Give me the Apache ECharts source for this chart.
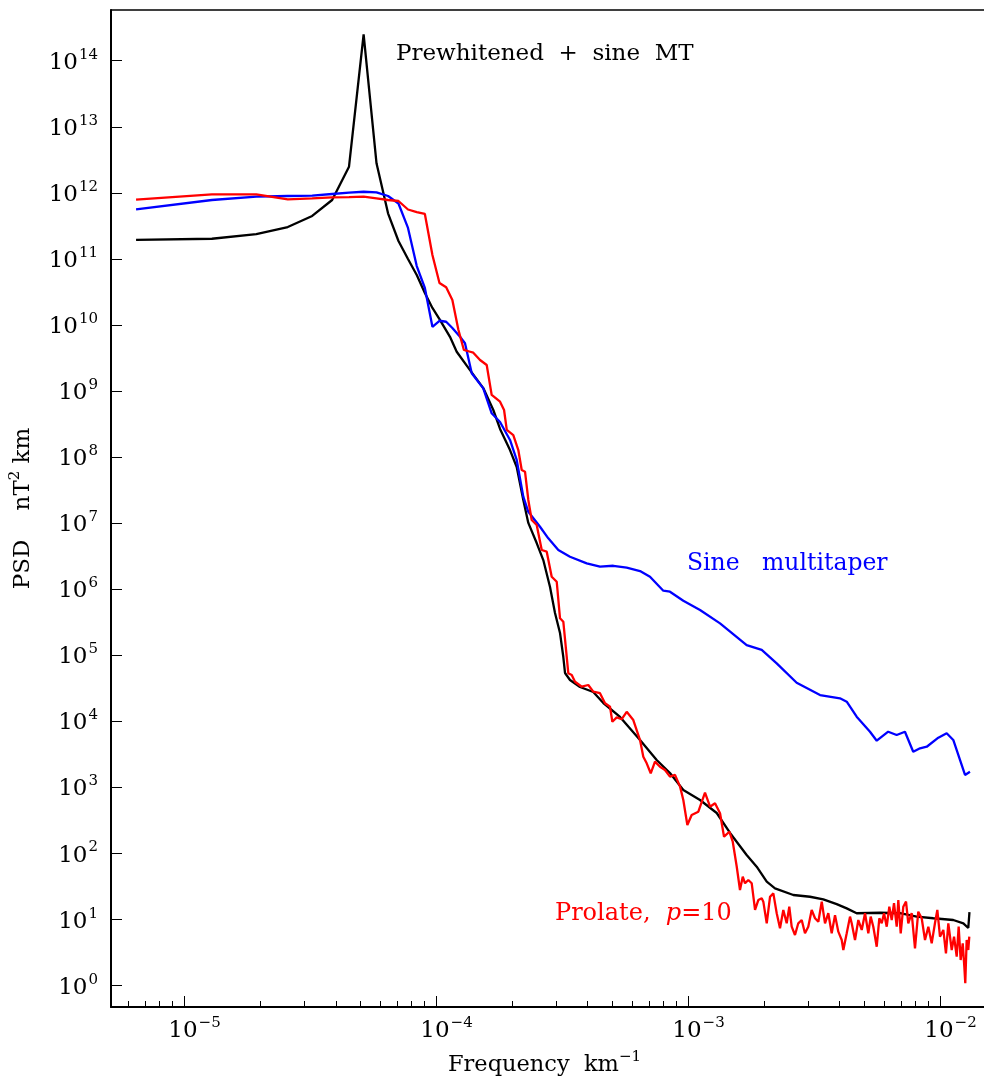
<!DOCTYPE html>
<html>
<head>
<meta charset="utf-8">
<script src="https://cdn.jsdelivr.net/npm/echarts@6/dist/echarts.min.js"></script>
<style>
  html, body { margin: 0; padding: 0; background: #fff; }
  #chart { width: 984px; height: 1076px; }
</style>
</head>
<body>
<div id="chart"></div>
<script>
// Power spectral density of a magnetic profile, three estimators.

// Prewhitened + sine multitaper
const blackFreq = [6.45e-6, 1.29e-5, 1.935e-5, 2.58e-5, 3.225e-5, 3.87e-5, 4.515e-5, 5.16e-5,
  5.805e-5, 6.45e-5, 7.095e-5, 7.74e-5, 8.385e-5, 9.03e-5, 9.675e-5, 1.032e-4,
  1.136e-4, 1.208e-4, 1.364e-4, 1.540e-4, 1.688e-4, 1.795e-4, 1.966e-4, 2.090e-4,
  2.220e-4, 2.324e-4, 2.509e-4, 2.665e-4, 2.834e-4, 2.966e-4, 3.105e-4, 3.200e-4,
  3.250e-4, 3.401e-4, 3.727e-4, 4.208e-4, 4.612e-4, 5.373e-4, 6.45e-4, 7.51e-4,
  8.48e-4, 9.58e-4, 1.116e-3, 1.300e-3, 1.468e-3, 1.709e-3, 1.873e-3, 2.053e-3,
  2.214e-3, 2.618e-3, 3.049e-3, 3.443e-3, 3.891e-3, 4.264e-3, 4.67e-3, 5.78e-3,
  6.94e-3, 8.08e-3, 9.41e-3, 1.129e-2, 1.238e-2, 1.295e-2, 1.309e-2];
const blackPsd = [1.94e11, 2.02e11, 2.38e11, 3.04e11, 4.47e11, 7.8e11, 2.49e12, 2.51e14,
  2.80e12, 4.91e11, 1.87e11, 9.97e10, 5.71e10, 3.05e10, 1.81e10, 1.23e10,
  6.63e9, 3.94e9, 2.08e9, 1.11e9, 5.17e8, 2.67e8, 1.28e8, 7.10e7,
  2.25e7, 1.01e7, 5.01e6, 2.77e6, 1.08e6, 4.38e5, 2.18e5, 9.44e4,
  5.41e4, 4.24e4, 3.32e4, 2.79e4, 1.90e4, 1.17e4, 5.23e3, 2.61e3,
  1.66e3, 916, 647, 411, 205, 95.1, 63.2, 37.5,
  29.8, 23.6, 22.2, 20.3, 17.2, 14.8, 12.5, 12.7,
  12.5, 11.1, 10.5, 9.87, 8.80, 7.47, 13.0];

// Sine multitaper
const blueFreq = [6.45e-6, 1.29e-5, 1.935e-5, 2.58e-5, 3.225e-5, 3.87e-5, 4.515e-5, 5.16e-5,
  5.805e-5, 6.45e-5, 7.095e-5, 7.74e-5, 8.385e-5, 9.03e-5, 9.675e-5, 1.032e-4,
  1.097e-4, 1.161e-4, 1.245e-4, 1.303e-4, 1.386e-4, 1.540e-4, 1.663e-4, 1.795e-4,
  1.966e-4, 2.090e-4, 2.220e-4, 2.324e-4, 2.586e-4, 2.790e-4, 3.057e-4, 3.401e-4,
  3.963e-4, 4.474e-4, 5.052e-4, 5.711e-4, 6.45e-4, 7.065e-4, 7.98e-4, 8.48e-4,
  9.58e-4, 1.116e-3, 1.340e-3, 1.709e-3, 1.961e-3, 2.249e-3, 2.699e-3, 3.341e-3,
  4.01e-3, 4.264e-3, 4.67e-3, 5.275e-3, 5.61e-3, 6.23e-3, 6.73e-3, 7.26e-3,
  7.83e-3, 8.33e-3, 8.86e-3, 9.85e-3, 1.063e-2, 1.129e-2, 1.257e-2, 1.315e-2];
const bluePsd = [5.64e11, 7.80e11, 8.75e11, 8.97e11, 9.06e11, 9.61e11, 1.01e12, 1.04e12,
  1.02e12, 8.97e11, 6.9e11, 2.95e11, 7.8e10, 3.63e10, 9.4e9, 1.16e10,
  1.12e10, 9.0e9, 6.65e9, 5.29e9, 1.86e9, 1.10e9, 4.61e8, 3.40e8,
  1.82e8, 9.06e7, 2.52e7, 1.49e7, 8.85e6, 5.91e6, 3.93e6, 3.11e6,
  2.47e6, 2.20e6, 2.27e6, 2.12e6, 1.89e6, 1.55e6, 9.51e5, 9.19e5,
  6.72e5, 4.86e5, 3.05e5, 1.43e5, 1.21e5, 7.58e4, 3.85e4, 2.51e4,
  2.24e4, 1.99e4, 1.18e4, 6.99e3, 5.11e3, 6.99e3, 6.23e3, 6.99e3,
  3.48e3, 3.92e3, 4.14e3, 5.67e3, 6.61e3, 5.24e3, 1.55e3, 1.73e3];

// Prolate multitaper, p = 10
const redFreq = [6.45e-6, 1.29e-5, 1.935e-5, 2.58e-5, 3.225e-5, 3.87e-5, 4.515e-5, 5.16e-5,
  5.805e-5, 6.45e-5, 7.095e-5, 7.74e-5, 8.385e-5, 9.03e-5, 9.675e-5, 1.032e-4,
  1.097e-4, 1.161e-4, 1.226e-4, 1.290e-4, 1.355e-4, 1.406e-4, 1.495e-4, 1.589e-4,
  1.663e-4, 1.795e-4, 1.862e-4, 1.909e-4, 2.026e-4, 2.121e-4, 2.188e-4, 2.255e-4,
  2.324e-4, 2.397e-4, 2.509e-4, 2.627e-4, 2.750e-4, 2.878e-4, 3.013e-4, 3.105e-4,
  3.200e-4, 3.350e-4, 3.456e-4, 3.561e-4, 3.787e-4, 4.021e-4, 4.208e-4, 4.474e-4,
  4.685e-4, 4.904e-4, 5.008e-4, 5.214e-4, 5.457e-4, 5.711e-4, 6.066e-4, 6.45e-4,
  6.647e-4, 6.856e-4, 7.112e-4, 7.396e-4, 7.742e-4, 8.102e-4, 8.48e-4, 8.88e-4,
  9.30e-4, 9.58e-4, 9.94e-4, 1.034e-3, 1.099e-3, 1.168e-3, 1.223e-3, 1.280e-3,
  1.340e-3, 1.390e-3, 1.459e-3, 1.505e-3, 1.561e-3, 1.608e-3, 1.649e-3, 1.684e-3,
  1.735e-3, 1.790e-3, 1.845e-3, 1.901e-3, 1.961e-3, 1.990e-3, 2.053e-3, 2.116e-3,
  2.181e-3, 2.249e-3, 2.318e-3, 2.389e-3, 2.464e-3, 2.523e-3, 2.579e-3, 2.658e-3,
  2.739e-3, 2.826e-3, 2.912e-3, 3.001e-3, 3.096e-3, 3.192e-3, 3.290e-3, 3.394e-3,
  3.497e-3, 3.604e-3, 3.717e-3, 3.832e-3, 3.949e-3, 4.074e-3, 4.134e-3, 4.264e-3,
  4.395e-3, 4.463e-3, 4.600e-3, 4.741e-3, 4.891e-3, 5.041e-3, 5.195e-3, 5.309e-3,
  5.437e-3, 5.609e-3, 5.744e-3, 5.872e-3, 5.997e-3, 6.146e-3, 6.294e-3, 6.433e-3,
  6.570e-3, 6.734e-3, 6.833e-3, 6.984e-3, 7.152e-3, 7.331e-3, 7.485e-3, 7.721e-3,
  7.958e-3, 8.20e-3, 8.46e-3, 8.72e-3, 8.99e-3, 9.27e-3, 9.55e-3, 9.76e-3,
  1.000e-2, 1.031e-2, 1.056e-2, 1.079e-2, 1.113e-2, 1.137e-2, 1.165e-2, 1.186e-2,
  1.208e-2, 1.231e-2, 1.249e-2, 1.260e-2, 1.276e-2, 1.295e-2, 1.307e-2];
const redPsd = [7.88e11, 9.51e11, 9.51e11, 8.00e11, 8.28e11, 8.57e11, 8.65e11, 8.75e11,
  8.28e11, 7.80e11, 7.53e11, 5.60e11, 5.13e11, 4.79e11, 1.15e11, 4.32e10,
  3.72e10, 2.39e10, 8.55e9, 4.19e9, 3.97e9, 3.81e9, 2.95e9, 2.48e9,
  8.73e8, 6.90e8, 5.17e8, 2.58e8, 2.16e8, 1.28e8, 6.38e7, 6.02e7,
  2.25e7, 1.12e7, 9.40e6, 3.93e6, 3.71e6, 1.55e6, 1.30e6, 3.64e5,
  3.23e5, 5.35e4, 5.04e4, 3.99e4, 3.35e4, 3.56e4, 2.82e4, 2.67e4,
  1.88e4, 1.67e4, 9.90e3, 1.15e4, 1.08e4, 1.40e4, 1.05e4, 5.23e3,
  2.92e3, 2.32e3, 1.64e3, 2.46e3, 2.06e3, 1.84e3, 1.46e3, 1.55e3,
  1.03e3, 647, 271, 383, 430, 834, 512, 576,
  407, 180, 214, 151, 63.2, 28.1, 44.7, 35.5,
  39.8, 35.5, 14.0, 19.8, 21.0, 18.7, 8.80, 22.2,
  25.0, 12.5, 7.39, 14.0, 8.80, 15.7, 7.82, 5.85,
  8.80, 9.87, 6.21, 7.82, 14.0, 10.5, 9.30, 18.7,
  8.80, 12.5, 6.21, 11.7, 6.57, 4.92, 3.47, 6.21,
  11.1, 8.80, 4.92, 9.87, 6.97, 12.5, 6.21, 11.1,
  7.82, 3.89, 10.5, 8.80, 12.5, 7.82, 15.7, 9.87,
  17.7, 7.82, 19.8, 6.21, 15.7, 18.7, 8.80, 12.5,
  3.68, 13.2, 10.5, 4.92, 7.82, 4.38, 8.80, 14.0,
  5.52, 6.97, 3.09, 8.80, 3.47, 5.52, 2.75, 7.82,
  2.45, 4.38, 1.94, 1.09, 4.92, 3.47, 5.52];

// Axis ranges and tick values
const xRange = [5.13e-6, 1.495e-2];
const yRange = [0.476, 5.86e14];
const xMajor = [1e-5, 1e-4, 1e-3, 1e-2];
const xMinor = [6e-6, 7e-6, 8e-6, 9e-6,
  2e-5, 3e-5, 4e-5, 5e-5, 6e-5, 7e-5, 8e-5, 9e-5,
  2e-4, 3e-4, 4e-4, 5e-4, 6e-4, 7e-4, 8e-4, 9e-4,
  2e-3, 3e-3, 4e-3, 5e-3, 6e-3, 7e-3, 8e-3, 9e-3];
const yMajor = [1e0, 1e1, 1e2, 1e3, 1e4, 1e5, 1e6, 1e7, 1e8, 1e9, 1e10, 1e11, 1e12, 1e13, 1e14];

const FONT = "'DejaVu Serif', serif";
const INK = '#000';
const LINE_W = 2.3;

function pairs(fs, ps) { return fs.map((f, i) => [f, ps[i]]); }

function powerLabel(v) {
  const e = Math.round(Math.log10(v));
  const s = e < 0 ? '\u2212' + Math.abs(e) : String(e);
  return '{b|10}{s|' + s + '}';
}

const powerRich = {
  b: { fontFamily: FONT, fontSize: 23, color: INK, lineHeight: 27, verticalAlign: 'bottom' },
  s: { fontFamily: FONT, fontSize: 15, color: INK, lineHeight: 27, verticalAlign: 'top', padding: [0, 0, 0, 1] }
};

const chart = echarts.init(document.getElementById('chart'), null, { renderer: 'canvas' });

chart.setOption({
  animation: false,
  backgroundColor: '#fff',
  grid: { left: 111, right: 0, top: 10, bottom: 69, containLabel: false, outerBoundsMode: 'none' },
  xAxis: [
    {
      type: 'log', position: 'bottom', min: xRange[0], max: xRange[1],
      axisLine: { show: true, lineStyle: { color: INK, width: 2 } },
      axisTick: { show: true, inside: true, length: 11, customValues: xMajor, lineStyle: { color: INK, width: 1 } },
      axisLabel: { show: true, customValues: xMajor, margin: 9, padding: [0, 0, 0, 21], formatter: powerLabel, rich: powerRich },
      splitLine: { show: false },
      minorTick: { show: false },
      name: '{t|Frequency  km}{s|\u22121}',
      nameLocation: 'middle', nameGap: 43,
      nameTextStyle: {
        padding: [0, 6, 0, 0],
        rich: {
          t: { fontFamily: FONT, fontSize: 22.5, color: INK, lineHeight: 27, verticalAlign: 'bottom' },
          s: { fontFamily: FONT, fontSize: 15, color: INK, lineHeight: 27, verticalAlign: 'top' }
        }
      }
    },
    {
      type: 'log', position: 'bottom', min: xRange[0], max: xRange[1],
      axisLine: { show: false },
      axisTick: { show: true, inside: true, length: 6, customValues: xMinor, lineStyle: { color: INK, width: 1 } },
      axisLabel: { show: false },
      splitLine: { show: false }
    },
    {
      type: 'log', position: 'top', min: xRange[0], max: xRange[1],
      axisLine: { show: true, lineStyle: { color: INK, width: 1.5 } },
      axisTick: { show: false },
      axisLabel: { show: false },
      splitLine: { show: false }
    }
  ],
  yAxis: [
    {
      type: 'log', position: 'left', min: yRange[0], max: yRange[1],
      axisLine: { show: true, lineStyle: { color: INK, width: 2 } },
      axisTick: { show: true, inside: true, length: 11, customValues: yMajor, lineStyle: { color: INK, width: 1 } },
      axisLabel: { show: true, customValues: yMajor, margin: 13, formatter: powerLabel, rich: powerRich },
      splitLine: { show: false },
      name: '{t|PSD    nT}{s|2}{t| km}',
      nameLocation: 'middle', nameGap: 76, nameRotate: 90,
      nameTextStyle: {
        rich: {
          t: { fontFamily: FONT, fontSize: 23, color: INK, lineHeight: 27, verticalAlign: 'bottom' },
          s: { fontFamily: FONT, fontSize: 15, color: INK, lineHeight: 27, verticalAlign: 'top' }
        }
      }
    }
  ],
  series: [
    {
      name: 'Prewhitened + sine MT', type: 'line', xAxisIndex: 0, yAxisIndex: 0,
      data: pairs(blackFreq, blackPsd), showSymbol: false, symbol: 'none',
      lineStyle: { color: '#000000', width: LINE_W }, z: 2
    },
    {
      name: 'Sine multitaper', type: 'line', xAxisIndex: 0, yAxisIndex: 0,
      data: pairs(blueFreq, bluePsd), showSymbol: false, symbol: 'none',
      lineStyle: { color: '#0000ff', width: LINE_W }, z: 3
    },
    {
      name: 'Prolate, p=10', type: 'line', xAxisIndex: 0, yAxisIndex: 0,
      data: pairs(redFreq, redPsd), showSymbol: false, symbol: 'none',
      lineStyle: { color: '#ff0000', width: LINE_W }, z: 4
    }
  ],
  graphic: [
    {
      type: 'text', left: 396, top: 43,
      style: { text: 'Prewhitened  +  sine  MT', font: "23px 'DejaVu Serif', serif", fill: '#000' }
    },
    {
      type: 'text', left: 687, top: 552,
      style: { text: 'Sine   multitaper', font: "23.5px 'DejaVu Serif', serif", fill: '#0000ff' }
    },
    {
      type: 'text', left: 555, top: 902,
      style: {
        text: '{n|Prolate,  }{i|p}{n|=10}',
        rich: {
          n: { fontFamily: FONT, fontSize: 24, fill: '#ff0000', color: '#ff0000' },
          i: { fontFamily: FONT, fontSize: 24, fontStyle: 'italic', fill: '#ff0000', color: '#ff0000' }
        }
      }
    }
  ]
});
</script>
</body>
</html>
